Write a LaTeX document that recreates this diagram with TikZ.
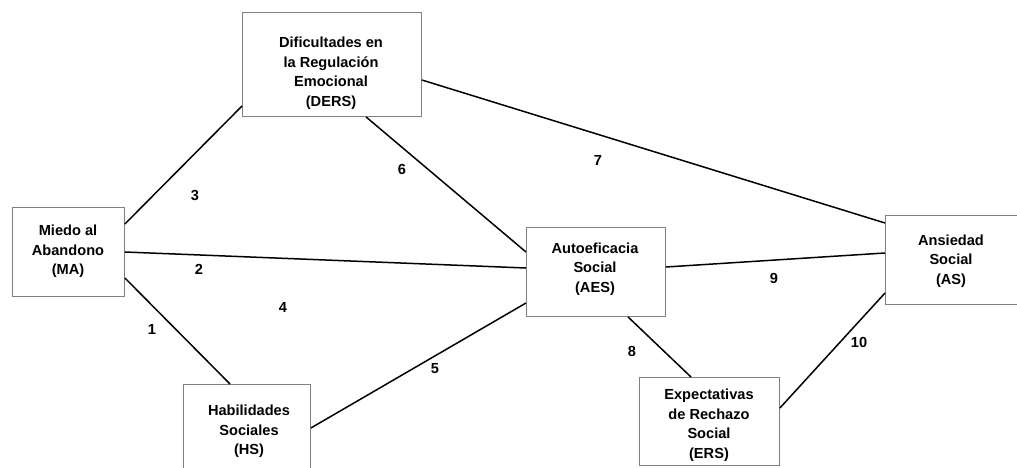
\documentclass[tikz,border=0pt]{standalone}
\usepackage{fontspec}
\setmainfont{Liberation Sans}
\usetikzlibrary{calc}
\begin{document}
\begin{tikzpicture}[x=1pt,y=-1pt,
  box/.style={draw=black!50,line width=0.9pt,fill=white,inner sep=0pt,anchor=north west},
  txt/.style={align=center,font=\fontsize{14.6}{19.5}\selectfont\bfseries,inner sep=0pt},
  num/.style={font=\fontsize{14.6}{17}\selectfont\bfseries,inner sep=0pt},
  link/.style={line width=1.5pt,black}]
\useasboundingbox (0,0) rectangle (1017,468);
% boxes
\node[box,minimum width=179pt,minimum height=104pt] (ders) at (242,12) {};
\node[box,minimum width=112pt,minimum height=89pt] (ma) at (12,207) {};
\node[box,minimum width=127pt,minimum height=110pt] (hs) at (183,384) {};
\node[box,minimum width=139pt,minimum height=89pt] (aes) at (526,227) {};
\node[box,minimum width=133pt,minimum height=89pt] (as) at (885,215) {};
\node[box,minimum width=140pt,minimum height=88pt] (ers) at (639,377) {};
% texts
\node[txt] (ders-t) at (331,73) {Dificultades en\\la Regulación\\Emocional\\(DERS)};
\node[txt] (ma-t) at (68,251.5) {Miedo al\\Abandono\\(MA)};
\node[txt] (hs-t) at (249,431.5) {Habilidades\\Sociales\\(HS)};
\node[txt] (aes-t) at (595,269) {Autoeficacia\\Social\\(AES)};
\node[txt] (as-t) at (951,261) {Ansiedad\\Social\\(AS)};
\node[txt] (ers-t) at (709,425) {Expectativas\\de Rechazo\\Social\\(ERS)};
% connectors
\draw[link] ($(ma.north east)+(0,71)$) -- ($(hs.north west)+(47,0)$);
\draw[link] ($(ma.north east)+(0,45)$) -- ($(aes.north west)+(0,41)$);
\draw[link] ($(ma.north east)+(0,17)$) -- ($(ders.north west)+(0,94)$);
\draw[link] ($(hs.north east)+(0,44)$) -- ($(aes.north west)+(0,76)$);
\draw[link] ($(ders.south west)+(124,0)$) -- ($(aes.north west)+(0,25)$);
\draw[link] ($(ders.north east)+(0,68)$) -- ($(as.north west)+(0,8)$);
\draw[link] ($(aes.south west)+(102,0)$) -- ($(ers.north west)+(52,0)$);
\draw[link] ($(aes.north east)+(0,40)$) -- ($(as.north west)+(0,38)$);
\draw[link] ($(ers.north east)+(0,31)$) -- ($(as.north west)+(0,78)$);
% labels
\node[num] (n1) at (152,329) {1};
\node[num] (n2) at (199,269) {2};
\node[num] (n3) at (195,195) {3};
\node[num] (n4) at (283,307) {4};
\node[num] (n5) at (435,369) {5};
\node[num] (n6) at (402,169) {6};
\node[num] (n7) at (598,160) {7};
\node[num] (n8) at (632,351) {8};
\node[num] (n9) at (774,278) {9};
\node[num] (n10) at (859,342) {10};
\end{tikzpicture}
\end{document}
